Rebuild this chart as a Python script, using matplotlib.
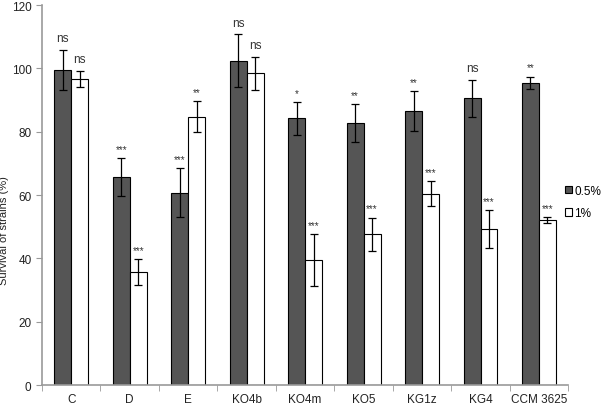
import numpy as np
import matplotlib.pyplot as plt

plt.rcParams['font.family'] = ['Liberation Sans', 'DejaVu Sans']

# strains and survival values (%)
strains = ['C', 'D', 'E', 'KO4b', 'KO4m', 'KO5', 'KG1z', 'KG4', 'CCM 3625']
surv_05 = [99.6, 65.7, 60.8, 102.5, 84.2, 82.8, 86.6, 90.6, 95.4]
err_05 = [6.3, 6.0, 7.6, 8.3, 5.1, 5.9, 6.3, 5.8, 2.0]
surv_1 = [96.6, 35.6, 84.8, 98.5, 39.5, 47.7, 60.4, 49.3, 52.1]
err_1 = [2.6, 4.1, 4.8, 5.2, 8.2, 5.2, 4.0, 6.0, 1.0]
sig_05 = ['ns', '***', '***', 'ns', '*', '**', '**', 'ns', '**']
sig_1 = ['ns', '***', '**', 'ns', '***', '***', '***', '***', '***']

fig = plt.figure(figsize=(6.09, 4.06), dpi=100)
ax = fig.add_axes([0.069, 0.049, 0.864, 0.936])

x = np.arange(len(strains))
w = 0.29
ax.bar(x - w/2, surv_05, w, color='#555555', edgecolor='black', linewidth=0.8,
       yerr=err_05, error_kw=dict(ecolor='black', elinewidth=0.9, capsize=3, capthick=0.9),
       label='0.5%')
ax.bar(x + w/2, surv_1, w, color='white', edgecolor='black', linewidth=0.8,
       yerr=err_1, error_kw=dict(ecolor='black', elinewidth=0.9, capsize=3, capthick=0.9),
       label='1%')

# significance marks above the error bars
for i in range(len(strains)):
    for xx, v, e, s in [(x[i] - w/2, surv_05[i], err_05[i], sig_05[i]),
                        (x[i] + w/2, surv_1[i], err_1[i], sig_1[i])]:
        if s == 'ns':
            ax.annotate(s, (xx, v + e), xytext=(0, 4), textcoords='offset points',
                        ha='center', va='bottom', fontsize=8.5, color='#333333')
        else:
            ax.annotate(s, (xx, v + e), xytext=(0, 3), textcoords='offset points',
                        ha='center', va='bottom', fontsize=7, color='#333333')

ax.set_xlim(-0.5, len(strains) - 0.5)
ax.set_ylim(0, 120)
ax.set_yticks(range(0, 121, 20))
ax.set_xticks(x)
ax.set_xticklabels(strains, fontsize=8.5, color='#222222')
ax.set_xticks(np.arange(-0.5, len(strains), 1.0), minor=True)
ax.tick_params(axis='x', which='major', length=0, pad=6)
ax.tick_params(axis='x', which='minor', length=4, color='#999999')
ax.tick_params(axis='y', length=4, color='#999999', labelsize=8.5, labelcolor='#222222')
ax.set_ylabel('Survival of strains (%)', fontsize=8, color='#222222')
ax.yaxis.set_label_coords(-0.062, 0.41)

for sp in ['top', 'right']:
    ax.spines[sp].set_visible(False)
for sp in ['left', 'bottom']:
    ax.spines[sp].set_color('#999999')
    ax.spines[sp].set_linewidth(1.2)

ax.legend(loc='upper left', bbox_to_anchor=(0.985, 0.54), frameon=False, fontsize=8.5,
          handlelength=0.6, handleheight=0.6, handletextpad=0.2, labelspacing=0.9,
          borderaxespad=0)

fig.savefig('out.png', dpi=100)
